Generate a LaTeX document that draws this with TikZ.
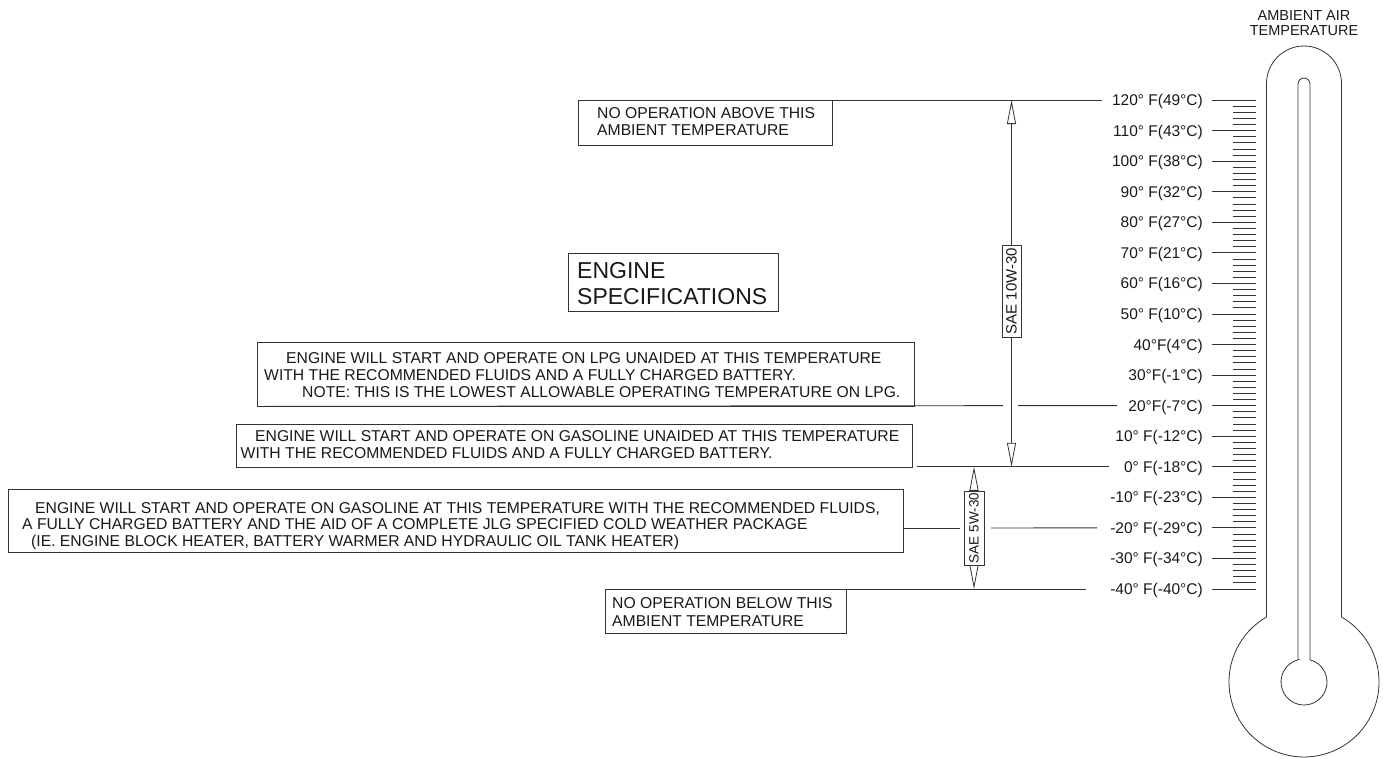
\documentclass[tikz,border=0pt]{standalone}
\usepackage{fontspec}
\setmainfont{Liberation Sans}
\usetikzlibrary{arrows.meta}
\begin{document}
\begin{tikzpicture}[x=1pt,y=-1pt,
  ln/.style={line width=0.8pt, draw=black!80},
  boxst/.style={draw=black!80, line width=0.8pt, inner sep=0pt, anchor=north west},
  txt/.style={inner sep=0pt, anchor=base west, font=\fontsize{15.7}{19}\selectfont, text=black!90},
  bigtxt/.style={inner sep=0pt, anchor=base west, font=\fontsize{23}{27}\selectfont, text=black!90},
  lab/.style={inner sep=0pt, anchor=east, text height=11pt, text depth=0pt, font=\fontsize{15.5}{18}\selectfont, text=black!90},
  ttl/.style={inner sep=0pt, anchor=base, font=\fontsize{14.5}{17}\selectfont, text=black!90},
  sae/.style={draw=black!80, line width=0.8pt, fill=white, rotate=90, inner sep=0pt, text=black!90},
  oarr/.style={{Triangle[open,length=24pt,width=9pt]}-{Triangle[open,length=24pt,width=9pt]}}
]
\useasboundingbox (0,0) rectangle (1383,758);

% ---------- thermometer ----------
\node[ttl] (t1) at (1304,20) {AMBIENT AIR};
\node[ttl] (t2) at (1304,35.7) {TEMPERATURE};
\draw[ln] (1266.5,617) -- (1266.5,83.5) arc[start angle=180,end angle=360,radius=37.5]
  -- (1341.5,617) arc[start angle=-60,end angle=240,radius=75] -- cycle;
\draw[ln] (1298,659.8) -- (1298,84) arc[start angle=180,end angle=360,radius=6]
  -- (1310,659.8) arc[start angle=-74.9,end angle=254.9,radius=23] -- cycle;

% minor ticks
\foreach \k in {1,...,79}{
  \pgfmathtruncatemacro\m{mod(\k,5)}
  \ifnum\m=0\relax\else
    \pgfmathsetmacro\yy{100+\k*6.1125}
    \draw[ln] (1233,\yy) -- (1256,\yy);
  \fi
}

% major labels
\foreach \i/\t in {1/{120° F(49°C)},2/{110° F(43°C)},3/{100° F(38°C)},4/{90° F(32°C)},
  5/{80° F(27°C)},6/{70° F(21°C)},7/{60° F(16°C)},8/{50° F(10°C)},9/{40°F(4°C)},
  10/{30°F(-1°C)},11/{20°F(-7°C)},12/{10° F(-12°C)},13/{0° F(-18°C)},14/{-10° F(-23°C)},
  15/{-20° F(-29°C)},16/{-30° F(-34°C)},17/{-40° F(-40°C)}}{
  \pgfmathsetmacro\yy{100+(\i-1)*30.5625}
  \node[lab] (L\i) at (1203,\yy) {\t};
  \coordinate (T\i) at (1256,\yy);
  \draw[ln] ([xshift=9pt]L\i.east) -- (T\i);
}

% ---------- boxes ----------
\node[boxst, minimum width=254pt, minimum height=45pt] (above) at (578,100) {};
\node[txt] (above1) at (597,118) {NO OPERATION ABOVE THIS};
\node[txt] (above2) at (597,135) {AMBIENT TEMPERATURE};

\node[boxst, minimum width=210pt, minimum height=58pt] (spec) at (568,253) {};
\node[bigtxt] (spec1) at (577,278) {ENGINE};
\node[bigtxt] (spec2) at (577,304) {SPECIFICATIONS};

\node[boxst, minimum width=657pt, minimum height=63.6pt] (lpg) at (257,342) {};
\node[txt] (lpg1) at (286,363.3) {ENGINE WILL START AND OPERATE ON LPG UNAIDED AT THIS TEMPERATURE};
\node[txt] (lpg2) at (264,380) {WITH THE RECOMMENDED FLUIDS AND A FULLY CHARGED BATTERY.};
\node[txt] (lpg3) at (302,397) {NOTE: THIS IS THE LOWEST ALLOWABLE OPERATING TEMPERATURE ON LPG.};

\node[boxst, minimum width=676pt, minimum height=42.75pt] (gu) at (236,424) {};
\node[txt] (gu1) at (255,441.7) {ENGINE WILL START AND OPERATE ON GASOLINE UNAIDED AT THIS TEMPERATURE};
\node[txt] (gu2) at (240.5,458.3) {WITH THE RECOMMENDED FLUIDS AND A FULLY CHARGED BATTERY.};

\node[boxst, minimum width=895pt, minimum height=63pt] (cw) at (8,489) {};
\node[txt] (cw1) at (35,513.3) {ENGINE WILL START AND OPERATE ON GASOLINE AT THIS TEMPERATURE WITH THE RECOMMENDED FLUIDS,};
\node[txt] (cw2) at (22,529) {A FULLY CHARGED BATTERY AND THE AID OF A COMPLETE JLG SPECIFIED COLD WEATHER PACKAGE};
\node[txt] (cw3) at (31,546.5) {(IE. ENGINE BLOCK HEATER, BATTERY WARMER AND HYDRAULIC OIL TANK HEATER)};

\node[boxst, minimum width=241pt, minimum height=44pt] (below) at (605,589) {};
\node[txt] (below1) at (612,608.7) {NO OPERATION BELOW THIS};
\node[txt] (below2) at (612,626) {AMBIENT TEMPERATURE};

% ---------- level lines ----------
\draw[ln] (above.north west) -- ([xshift=-10pt]L1.west);
\coordinate (g20a) at (1003,405.6);
\coordinate (g20b) at (1018,405.6);
\draw[ln] (lpg.south west) -- (g20a);
\draw[ln] (g20b) -- ([xshift=-11pt]L11.west);
\coordinate (z0) at (917,466.75);
\draw[ln] (z0) -- ([xshift=-15pt]L13.west);
\coordinate (m20a) at (903,527.9);
\coordinate (m20b) at (960,527.9);
\coordinate (m20c) at (991,527.9);
\draw[ln] (m20a) -- (m20b);
\draw[ln] (m20c) -- ([xshift=-13pt]L15.west);
\draw[ln] (below.north west) -- ([xshift=-24pt]L17.west);

% ---------- oil grade arrows ----------
\coordinate (a10t) at (1011.5,100);
\coordinate (a10b) at (1011.5,466.75);
\draw[ln, oarr] (a10t) -- (a10b);
\node[sae, minimum width=92pt, minimum height=19pt, font=\fontsize{15}{17}\selectfont] (s10) at (1011.5,291) {SAE 10W-30};

\coordinate (a5t) at (974,466.75);
\coordinate (a5b) at (974,589);
\draw[ln, oarr] (a5t) -- (a5b);
\node[sae, minimum width=74pt, minimum height=20pt, font=\fontsize{13.5}{16}\selectfont] (s5) at (974,528) {SAE 5W-30};

\end{tikzpicture}
\end{document}
